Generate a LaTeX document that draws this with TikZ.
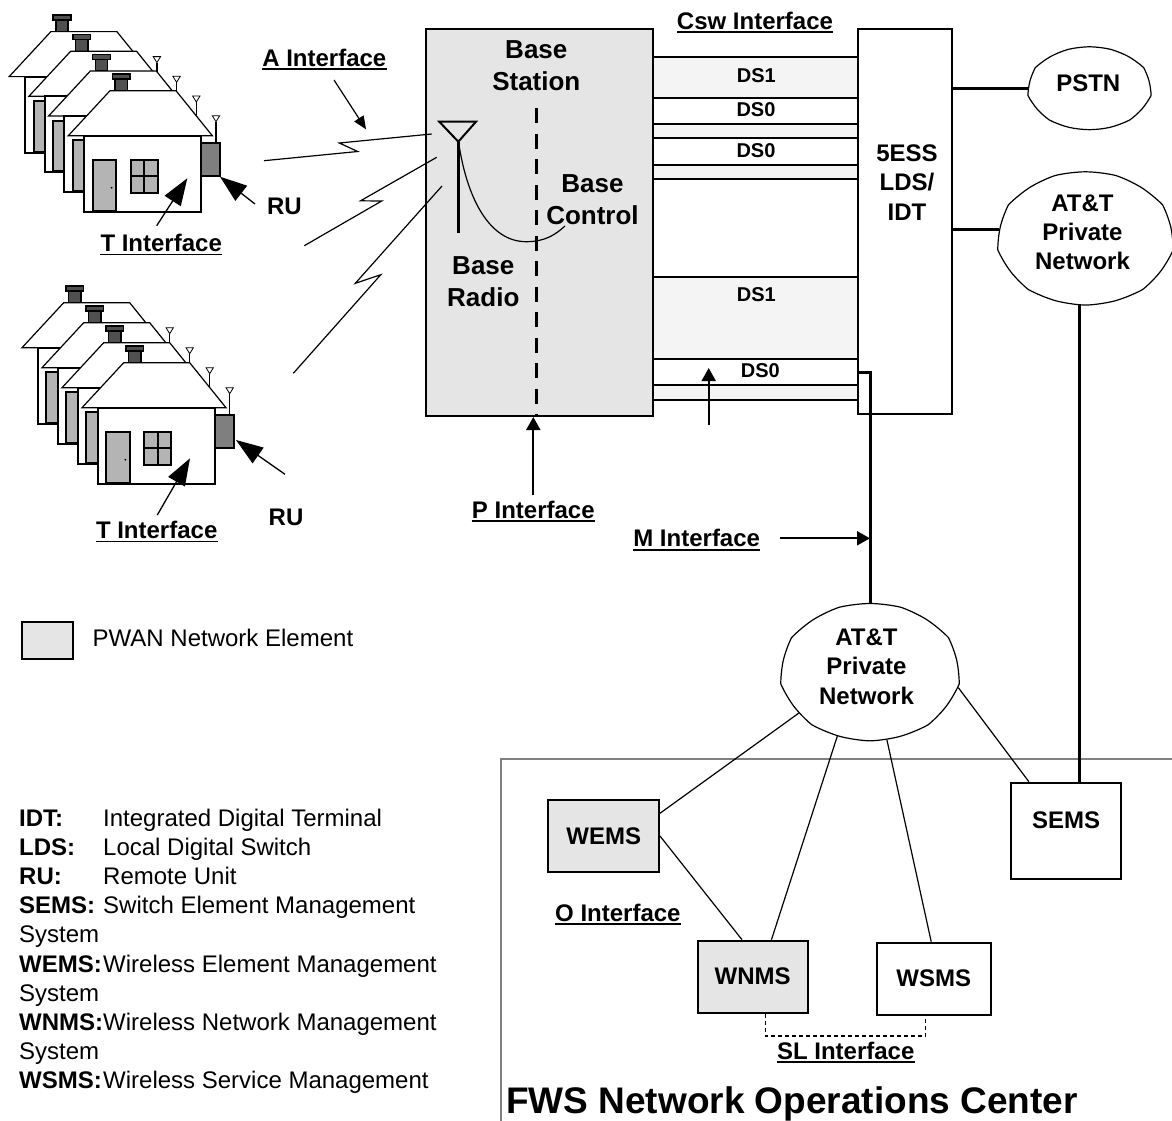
\documentclass[tikz,border=0pt]{standalone}
\usepackage{fontspec}
\setmainfont{Liberation Sans}
\usetikzlibrary{arrows.meta,shapes.symbols}

\definecolor{pwangray}{HTML}{E5E5E5}
\definecolor{bandgray}{HTML}{F4F4F4}
\definecolor{doorgray}{HTML}{B4B4B4}
\definecolor{chimgray}{HTML}{505050}
\definecolor{rugray}{HTML}{7F7F7F}
\definecolor{framegray}{HTML}{808080}

\begin{document}
\begin{tikzpicture}[x=1pt,y=-1pt,
  lbl/.style={font=\fontsize{24}{29.2}\selectfont\bfseries, inner sep=0pt, align=center},
  biglbl/.style={font=\fontsize{26}{32}\selectfont\bfseries, inner sep=0pt, align=center},
  dslbl/.style={font=\fontsize{20}{24}\selectfont\bfseries, inner sep=0pt},
  ulbl/.style={lbl, append after command={([yshift=-3pt]\tikzlastnode.base west) edge[line width=1.8pt] ([yshift=-3pt]\tikzlastnode.base east)}},
  legkey/.style={font=\fontsize{24}{29.2}\selectfont\bfseries, inner sep=0pt, anchor=base west},
  legtxt/.style={font=\fontsize{24}{29.2}\selectfont, inner sep=0pt, anchor=base west},
  box/.style={draw, line width=2pt, inner sep=0pt},
  pwan/.style={box, fill=pwangray},
  plainbox/.style={box, fill=white},
  netcloud/.style={cloud, cloud puffs=9, cloud puff arc=28, cloud ignores aspect, draw, line width=1.2pt, fill=white, inner sep=0pt},
  thinline/.style={line width=1.2pt},
  trunk/.style={line width=3pt},
  dsline/.style={line width=2pt},
  bigarrow/.style={line width=1.3pt, -{Triangle[length=27pt,width=19pt]}},
  smallarrow/.style={line width=2pt, -{Triangle[length=13pt,width=14pt]}},
  airarrow/.style={line width=1.2pt, -{Triangle[length=13pt,width=11pt]}},
  zig/.style={line width=1.2pt, line join=miter},
  house/.pic={
    % chimney
    \draw[line width=1.5pt, fill=chimgray] (31,-56.7) rectangle (43.3,-45);
    \draw[line width=1.5pt, fill=chimgray] (28.3,-61.7) rectangle (46,-56.7);
    % roof and walls
    \draw[line width=1.2pt, fill=white] (-15.7,0) -- (26,-45) -- (92,-45) -- (128.3,0) -- cycle;
    \draw[line width=2pt, fill=white] (0,0) rectangle (117,76);
    % door with knob
    \draw[line width=2pt, fill=doorgray] (8.7,24.3) rectangle (32,75);
    \fill (27.7,52) circle (1);
    % window
    \draw[line width=2pt, fill=doorgray] (46.7,24.3) rectangle (73.7,57);
    \draw[line width=2pt] (60.2,24.3) -- (60.2,57) (46.7,40.7) -- (73.7,40.7);
    % antenna and remote unit
    \draw[line width=1.5pt] (132,-14) -- (132,7);
    \draw[line width=0.8pt, fill=white] (128.3,-20) -- (135.7,-20) -- (132,-14) -- cycle;
    \draw[line width=2pt, fill=rugray] (117,7) rectangle (136,40.3);
  }
]
\useasboundingbox (0,0) rectangle (1172,1120);
\clip (0,0) rectangle (1172,1120);
\fill[white] (0,0) rectangle (1172,1120);

% ---------------- subscriber houses ----------------
\foreach \k in {3,2,1,0} \pic at ({84-19.7*\k},{135.7-19.7*\k}) {house};
\foreach \k in {3,2,1,0} \pic at ({97.7-20*\k},{407.7-20*\k}) {house};

\node[ulbl] (tif1) at (161.2,243) {T Interface};
\node[lbl] (ru1) at (284.5,206.7) {RU};
\draw[bigarrow] (156.7,225.7) -- (187.3,178.3);
\draw[bigarrow] (255,204) -- (220,176.7);

\node[ulbl] (tif2) at (156.7,530) {T Interface};
\node[lbl] (ru2) at (286,517.8) {RU};
\draw[bigarrow] (157.3,515) -- (190,458.3);
\draw[bigarrow] (285,474.3) -- (236,440);

% ---------------- base station ----------------
\node[pwan, minimum width=227pt, minimum height=387pt] (bs) at (539.5,222.5) {};
\node[plainbox, minimum width=94pt, minimum height=385pt] (ess) at (905,221.5) {};

% DS trunks between base station and switch
\foreach \a/\b in {56.7/97.7, 124/137.7, 165/179, 276.7/359, 385/400}
  \fill[bandgray] (bs.east |- 0,\a) rectangle (ess.west |- 0,\b);
\foreach \y in {56.7,97.7,124,137.7,165,179,276.7,359,385,400}
  \draw[dsline] (bs.east |- 0,\y) -- (ess.west |- 0,\y);

\node[dslbl] (ds1a) at (756.3,75.8) {DS1};
\node[dslbl] (ds0a) at (756,109.2) {DS0};
\node[dslbl] (ds0b) at (756,150.8) {DS0};
\node[dslbl] (ds1b) at (756.3,294.8) {DS1};
\node[dslbl] (ds0c) at (760.3,370.8) {DS0};
\node[ulbl] (csw) at (755,20.5) {Csw Interface};

\coordinate (dstail) at (708.7,425);
\coordinate (dshead) at (708.7,368);
\draw[smallarrow] (dstail) -- (dshead);

% base station interior
\draw[line width=3pt, dash pattern=on 15pt off 10.5pt] (536,108) -- (bs.south -| 536,0);
\draw[line width=2pt, line join=miter] (439.3,121.7) -- (476,121.7) -- (458.3,141.7) -- cycle;
\draw[line width=3pt] (458.3,141.7) -- (458.3,233);
\draw[thinline] (459.3,146.7) .. controls (468,200) and (490,242) .. (526.7,241.7)
  .. controls (545,241.5) and (555,235) .. (565,226);

\node[biglbl] (bst) at (536.3,65.7) {Base\\Station};
\node[biglbl] (bcl) at (592.5,200) {Base\\Control};
\node[biglbl] (brd) at (483.3,282) {Base\\Radio};
\node[lbl] (esst) at (907,182.5) {5ESS\\LDS/\\IDT};

% air interface
\draw[zig] (264,160.7) -- (357.7,151.5) -- (339.3,143) -- (431.7,134);
\draw[zig] (304.3,245.7) -- (381.7,201) -- (360.5,200.8) -- (436.7,157.3);
\draw[zig] (293.3,373.3) -- (380.8,274.7) -- (355.3,283.3) -- (442,186);
\node[ulbl] (aif) at (324.3,57.8) {A Interface};
\coordinate (atail) at (334,80);
\coordinate (ahead) at (366,129.3);
\draw[airarrow] (atail) -- (ahead);

% P interface
\node[ulbl] (pif) at (533.3,509.5) {P Interface};
\draw[smallarrow] ([yshift=5pt]pif.north) -- (pif.north |- bs.south);

% ---------------- networks ----------------
\node[netcloud, minimum width=121pt, minimum height=83pt] (pstn) at (1089.5,88.3) {};
\node[lbl] (pstnt) at (1088.3,83.7) {PSTN};
\node[netcloud, minimum width=173pt, minimum height=133pt] (att1) at (1085.5,238.3) {};
\node[lbl] (att1t) at (1082.5,232.2) {AT\&T\\Private\\Network};
\node[netcloud, minimum width=176pt, minimum height=137pt] (att2) at (870,672) {};
\node[lbl] (att2t) at (866.5,666.7) {AT\&T\\Private\\Network};

\draw[trunk] (ess.east |- pstn.west) -- (pstn.west);
\draw[trunk] (ess.east |- att1.174) -- (att1.174);

% operations center frame
\draw[framegray, line width=2pt] (1190,759.3) -- (501.3,759.3) -- (501.3,1140);
\node[font=\fontsize{37}{44}\selectfont\bfseries, inner sep=0pt, anchor=base west] (noct) at (506,1113.3) {FWS Network Operations Center};

\node[pwan, minimum width=110.6pt, minimum height=72pt, font=\fontsize{24}{29}\selectfont\bfseries] (wems) at (603.7,836) {WEMS};
\node[pwan, minimum width=110pt, minimum height=72pt, font=\fontsize{24}{29}\selectfont\bfseries] (wnms) at (752.6,976.7) {WNMS};
\node[plainbox, minimum width=114pt, minimum height=72pt, font=\fontsize{24}{29}\selectfont\bfseries] (wsms) at (933.8,978.7) {WSMS};
\node[plainbox, minimum width=109.7pt, minimum height=96pt] (sems) at (1065.8,830.7) {};
\node[lbl] (semst) at (1066,820) {SEMS};

\draw[trunk] (att1.265) -- (att1.265 |- sems.north);
\draw[trunk] (ess.west |- 0,372.7) -| (att2.north);

\node[ulbl] (mif) at (696.7,538.3) {M Interface};
\draw[smallarrow] ([xshift=20pt]mif.east) -- (mif.east -| att2.north);

\draw[thinline] (att2.210) -- (wems.22.6);
\draw[thinline] (wems.east) -- (wnms.106);
\draw[thinline] (att2.243) -- (wnms.63.4);
\draw[thinline] (att2.284) -- (wsms.94);
\draw[thinline] (att2.350) -- (sems.127.8);

\node[ulbl] (oif) at (617.9,912.8) {O Interface};
\draw[line width=1.3pt, dash pattern=on 4pt off 3pt] ([xshift=13pt]wnms.south) -- ++(0,22.3) -| ([xshift=-8pt]wsms.south);
\node[ulbl] (slif) at (845.7,1050.5) {SL Interface};

% ---------------- legend ----------------
\node[pwan, minimum width=51.6pt, minimum height=37.6pt] (legbox) at (47.5,640.5) {};
\node[legtxt] (legboxt) at (92.5,646) {PWAN Network Element};

\node[legkey] (k1) at (19,826) {IDT:};
\node[legtxt] (d1) at (103,826) {Integrated Digital Terminal};
\node[legkey] (k2) at (19,855.2) {LDS:};
\node[legtxt] (d2) at (103,855.2) {Local Digital Switch};
\node[legkey] (k3) at (19,884.4) {RU:};
\node[legtxt] (d3) at (103,884.4) {Remote Unit};
\node[legkey] (k4) at (19,913.6) {SEMS:};
\node[legtxt] (d4) at (103,913.6) {Switch Element Management};
\node[legtxt] (d4b) at (19,942.8) {System};
\node[legkey] (k5) at (19,972) {WEMS:};
\node[legtxt] (d5) at (103,972) {Wireless Element Management};
\node[legtxt] (d5b) at (19,1001.2) {System};
\node[legkey] (k6) at (19,1030.4) {WNMS:};
\node[legtxt] (d6) at (103,1030.4) {Wireless Network Management};
\node[legtxt] (d6b) at (19,1059.6) {System};
\node[legkey] (k7) at (19,1088.8) {WSMS:};
\node[legtxt] (d7) at (103,1088.8) {Wireless Service Management};
\end{tikzpicture}
\end{document}
